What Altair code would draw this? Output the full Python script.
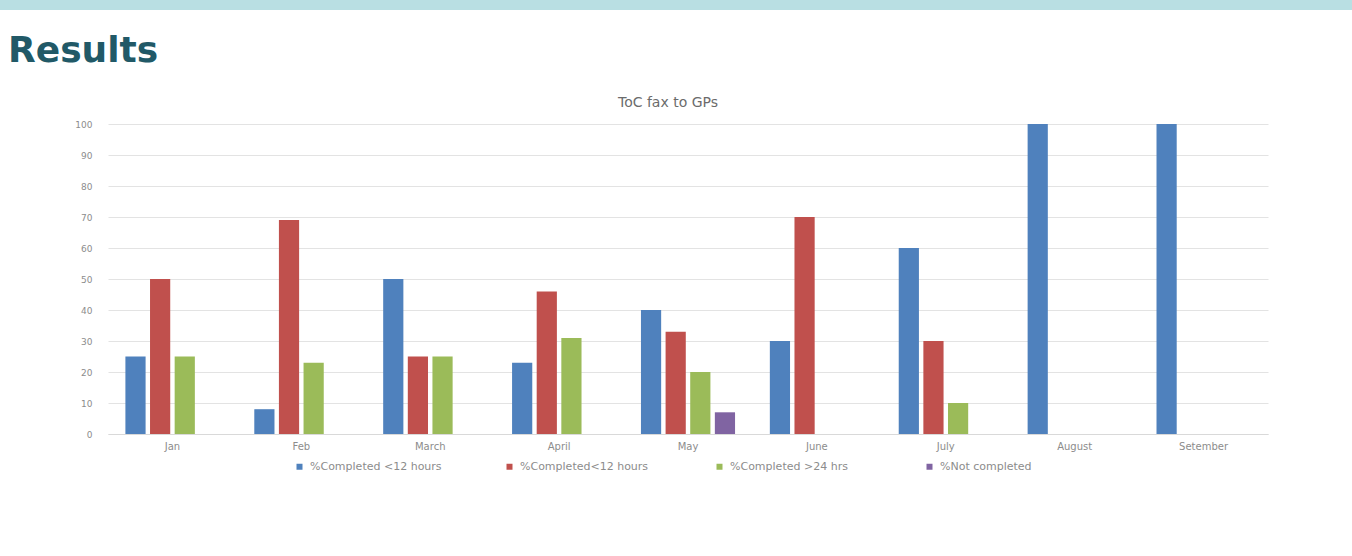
import altair as alt
import pandas as pd

months = ["Jan", "Feb", "March", "April", "May", "June", "July", "August", "Setember"]
series = ["%Completed <12 hours", "%Completed<12 hours", "%Completed >24 hrs", "%Not completed"]
colors = ["#4f81bd", "#c0504d", "#9bbb59", "#8064a2"]

blue_vals = [25, 8, 50, 23, 40, 30, 60, 100, 100]
red_vals = [50, 69, 25, 46, 33, 70, 30, 0, 0]
green_vals = [25, 23, 25, 31, 20, 0, 10, 0, 0]
purple_vals = [0, 0, 0, 0, 7, 0, 0, 0, 0]

chart_title = "ToC fax to GPs"
heading_text = "Results"

rows = []
for s, vals in zip(series, [blue_vals, red_vals, green_vals, purple_vals]):
    for m, v in zip(months, vals):
        rows.append({"month": m, "series": s, "value": v})
df = pd.DataFrame(rows)

W, H = 1160, 310
PL, PT = 108, 124

bars = alt.Chart(df).transform_filter("datum.value > 0").mark_bar().encode(
    x=alt.X("month:N", sort=months, title=None,
            scale=alt.Scale(paddingInner=0.27, paddingOuter=0.135),
            axis=alt.Axis(labelAngle=0, labelFont="DejaVu Sans", labelFontSize=10,
                          labelColor="#8c8c8c", labelPadding=7, ticks=False,
                          domainColor="#d9d9d9", domainWidth=1)),
    xOffset=alt.XOffset("series:N", sort=series, scale=alt.Scale(domain=series, paddingInner=0.18)),
    y=alt.Y("value:Q", title=None,
            scale=alt.Scale(domain=[0, 100]),
            axis=alt.Axis(values=list(range(0, 101, 10)), labelFont="DejaVu Sans", labelFontSize=9,
                          labelColor="#8c8c8c", labelPadding=16, ticks=False, domain=False,
                          gridColor="#e3e3e3", gridWidth=1)),
    color=alt.Color("series:N", sort=series,
                    scale=alt.Scale(domain=series, range=colors),
                    legend=alt.Legend(title=None, orient="none", legendX=186, legendY=337,
                                      direction="horizontal", columns=4, gridAlign="all",
                                      symbolType="square", symbolSize=36, symbolStrokeWidth=0,
                                      labelFont="DejaVu Sans", labelFontSize=11,
                                      labelColor="#8c8c8c", labelOffset=5, columnPadding=62)),
)

band = alt.Chart(pd.DataFrame({"k": [1]})).mark_rect(color="#b9dfe3").encode(
    x=alt.value(-PL), x2=alt.value(1352 - PL), y=alt.value(-PT), y2=alt.value(-PT + 10)
)

heading = alt.Chart(pd.DataFrame({"t": [heading_text]})).mark_text(
    font="DejaVu Sans", fontSize=36, fontWeight="bold", color="#215967",
    align="left", baseline="alphabetic"
).encode(text="t:N", x=alt.value(8 - PL), y=alt.value(62 - PT))

title = alt.Chart(pd.DataFrame({"t": [chart_title]})).mark_text(
    font="DejaVu Sans", fontSize=14, color="#6b6b6b",
    align="center", baseline="alphabetic"
).encode(text="t:N", x=alt.value(668 - PL), y=alt.value(107 - PT))

chart = alt.layer(band, heading, title, bars).properties(
    width=W, height=H,
    autosize=alt.AutoSizeParams(type="none"),
    padding={"left": PL, "top": PT, "right": 1352 - PL - W, "bottom": 556 - PT - H},
    background="white",
).configure_view(stroke=None)

chart.save("out.html", embed_options={"renderer": "svg", "actions": False})
